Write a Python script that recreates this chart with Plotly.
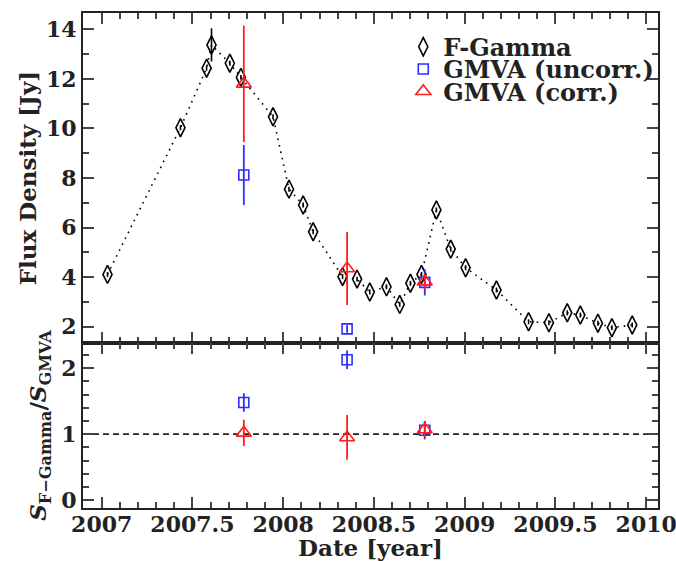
import plotly.graph_objects as go
from plotly.subplots import make_subplots

# ---- data ----
fg_date = [2007.032, 2007.434, 2007.578, 2007.605, 2007.706, 2007.767, 2007.944,
           2008.032, 2008.110, 2008.165, 2008.327, 2008.407, 2008.477, 2008.569,
           2008.642, 2008.701, 2008.762, 2008.844, 2008.923, 2009.005, 2009.175,
           2009.352, 2009.464, 2009.565, 2009.637, 2009.734, 2009.811, 2009.923]
fg_flux = [4.11, 10.03, 12.43, 13.37, 12.63, 12.06, 10.47,
           7.55, 6.91, 5.83, 4.02, 3.92, 3.40, 3.61,
           2.90, 3.75, 4.11, 6.71, 5.13, 4.38, 3.48,
           2.20, 2.16, 2.56, 2.47, 2.14, 1.96, 2.07]
fg_err = [0.1, 0.1, 0.1, 0.67, 0.1, 0.1, 0.1,
          0.1, 0.1, 0.1, 0.1, 0.1, 0.1, 0.1,
          0.1, 0.1, 0.1, 0.1, 0.1, 0.1, 0.1,
          0.1, 0.1, 0.1, 0.1, 0.1, 0.1, 0.1]

gm_date = [2007.783, 2008.352, 2008.780]
gm_unc_flux = [8.12, 1.91, 3.79]
gm_unc_err = [1.21, 0.15, 0.53]
gm_cor_flux = [11.80, 4.35, 3.82]
gm_cor_err = [2.35, 1.47, 0.30]

ratio_unc = [1.48, 2.13, 1.06]
ratio_unc_err = [0.14, 0.14, 0.14]
ratio_cor = [1.02, 0.95, 1.07]
ratio_cor_err = [0.20, 0.34, 0.12]

ref_level = [1.0, 1.0]
x_range = [2006.897, 2010.065]
x_tick_vals = [2007, 2007.5, 2008, 2008.5, 2009, 2009.5, 2010]
x_tick_text = ["2007", "2007.5", "2008", "2008.5", "2009", "2009.5", "2010"]

FONT = "DejaVu Serif"
INK = "#222222"
BLUE = "rgb(45,45,255)"
RED = "rgb(255,30,30)"

fig = make_subplots(rows=2, cols=1, shared_xaxes=True, vertical_spacing=0,
                    row_heights=[2 / 3, 1 / 3])

# dotted connecting line (no legend entry)
fig.add_trace(go.Scatter(
    x=fg_date, y=fg_flux, mode="lines", showlegend=False, hoverinfo="skip",
    line=dict(color="black", width=1.6, dash="1.6px,5px"),
), row=1, col=1)

fig.add_trace(go.Scatter(
    x=fg_date, y=fg_flux, mode="markers", name="F-Gamma", legend="legend",
    marker=dict(symbol="diamond-tall-open", size=13, color="black",
                line=dict(width=1.6, color="black")),
    error_y=dict(type="data", array=fg_err, color="black", thickness=1.6, width=0),
), row=1, col=1)

fig.add_trace(go.Scatter(
    x=gm_date, y=gm_unc_flux, mode="markers", name="GMVA (uncorr.)", legend="legend2",
    marker=dict(symbol="square-open", size=10, color=BLUE, line=dict(width=1.6, color=BLUE)),
    error_y=dict(type="data", array=gm_unc_err, color=BLUE, thickness=1.8, width=0),
), row=1, col=1)

fig.add_trace(go.Scatter(
    x=gm_date, y=gm_cor_flux, mode="markers", name="GMVA (corr.)", legend="legend3",
    marker=dict(symbol="triangle-up-open", size=13, color=RED, line=dict(width=1.6, color=RED)),
    error_y=dict(type="data", array=gm_cor_err, color=RED, thickness=1.8, width=0),
), row=1, col=1)

fig.add_trace(go.Scatter(
    x=x_range, y=ref_level, mode="lines", showlegend=False, hoverinfo="skip",
    line=dict(color=INK, width=1.6, dash="6px,4px"),
), row=2, col=1)

fig.add_trace(go.Scatter(
    x=gm_date, y=ratio_unc, mode="markers", showlegend=False,
    marker=dict(symbol="square-open", size=10, color=BLUE, line=dict(width=1.6, color=BLUE)),
    error_y=dict(type="data", array=ratio_unc_err, color=BLUE, thickness=1.8, width=0),
), row=2, col=1)

fig.add_trace(go.Scatter(
    x=gm_date, y=ratio_cor, mode="markers", showlegend=False,
    marker=dict(symbol="triangle-up-open", size=13, color=RED, line=dict(width=1.6, color=RED)),
    error_y=dict(type="data", array=ratio_cor_err, color=RED, thickness=1.8, width=0),
), row=2, col=1)

tickfont = dict(family=FONT, size=22, color=INK, weight="bold")
titlefont = dict(family=FONT, size=23, color=INK, weight="bold")
axis_common = dict(showline=True, linewidth=2, linecolor=INK, mirror="ticks",
                   ticks="inside", tickwidth=1.5, tickcolor="#444", showgrid=False,
                   zeroline=False, tickfont=tickfont, automargin=False,
                   ticklabeloverflow="allow")

fig.update_xaxes(range=x_range, tickmode="array", tickvals=x_tick_vals,
                 ticktext=x_tick_text, tickangle=0, ticklen=11,
                 minor=dict(dtick=0.1, tick0=2007, ticklen=6, ticks="inside",
                            tickcolor="#444", tickwidth=1.5, showgrid=False),
                 **axis_common)
fig.update_xaxes(showticklabels=False, row=1, col=1)
fig.update_xaxes(title=dict(text="Date [year]", font=titlefont, standoff=4),
                 ticklabelstandoff=-4, row=2, col=1)

fig.update_yaxes(range=[1.342, 14.658], dtick=2, tick0=0, ticklen=11,
                 minor=dict(dtick=1, ticklen=6, ticks="inside", tickcolor="#444",
                            tickwidth=1.5, showgrid=False),
                 title=dict(text="Flux Density [Jy]", font=titlefont, standoff=3),
                 row=1, col=1, **axis_common)
fig.update_yaxes(range=[-0.121, 2.384], dtick=1, tick0=0, ticklen=11,
                 minor=dict(dtick=0.2, ticklen=6, ticks="inside", tickcolor="#444",
                            tickwidth=1.5, showgrid=False),
                 title=dict(text="<i>S</i><sub>F\u2212Gamma</sub>/<i>S</i><sub>GMVA</sub>",
                            font=titlefont, standoff=8),
                 row=2, col=1, **axis_common)

legend_common = dict(xanchor="left", yanchor="middle", bgcolor="rgba(0,0,0,0)",
                     font=dict(family=FONT, size=24, color=INK, weight="bold"),
                     itemwidth=30, borderwidth=0)
fig.update_layout(
    width=676, height=561,
    margin=dict(l=83, r=18, t=13, b=53),
    paper_bgcolor="white", plot_bgcolor="white",
    legend=dict(x=0.557, y=0.931, **legend_common),
    legend2=dict(x=0.557, y=0.886, **legend_common),
    legend3=dict(x=0.557, y=0.841, **legend_common),
    font=dict(family=FONT, color=INK),
)

fig.write_html("out.html")
